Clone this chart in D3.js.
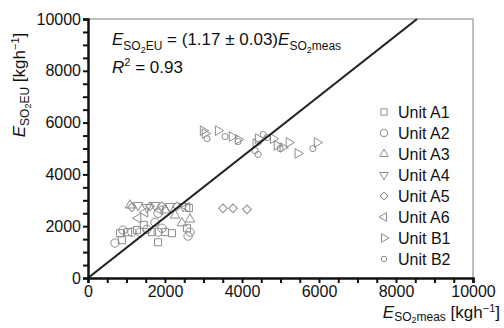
<!DOCTYPE html>
<html>
<head>
<meta charset="utf-8">
<script src="https://cdn.jsdelivr.net/npm/d3@7"></script>
<style>
  body { margin: 0; background: #fff; }
  svg { display: block; font-family: "Liberation Sans", Arial, sans-serif; }
</style>
</head>
<body>
<div id="chart"></div>
<script>
// data (kg/h)
const unitNames = ["Unit A1", "Unit A2", "Unit A3", "Unit A4", "Unit A5", "Unit A6", "Unit B1", "Unit B2"];
const unitA1 = [[880,1460],[830,1730],[1040,1770],[1270,1850],[1660,1770],[1820,1380],[2000,1770],[2180,1730],[2570,1920],[1450,2050],[2620,2700]];
const unitA2 = [[700,1350],[910,1850],[1140,1770],[1350,1770],[1530,1880],[1820,1770],[2650,1770],[1920,1920],[1820,2500],[1740,2150],[2600,1620]];
const unitA3 = [[2440,2120],[2650,2270],[2260,2420],[1090,2810],[2000,2620]];
const unitA4 = [[1300,2810],[1740,2810],[2130,2770],[2470,2770],[1530,2730]];
const unitA5 = [[1140,2730],[1920,2770],[2310,2770],[1610,2770],[3506,2690],[3766,2690],[4130,2650]];
const unitA6 = [[1300,2310],[2570,2730],[1870,2620],[1480,2540]];
const unitB1 = [[2990,5690],[3040,5580],[3380,5690],[3740,5460],[3900,5350],[4360,5190],[4420,5380],[4810,5380],[4910,5120],[5220,5230],[5450,4810],[5950,5230],[5060,5040]];
const unitB2 = [[3090,5380],[3560,5460],[4550,5540],[4650,5420],[4420,4770],[4990,5000],[5840,5000],[3900,5270],[4340,4920]];
const unitData = [unitA1, unitA2, unitA3, unitA4, unitA5, unitA6, unitB1, unitB2];

const slope = 1.17;
const xTicks = d3.range(0, 10001, 500);
const yTicks = d3.range(0, 10001, 500);

const width = 504, height = 328;
const margin = {top: 19, right: 31, bottom: 50, left: 88};

const svg = d3.select('#chart').append('svg')
    .attr('width', width)
    .attr('height', height);

const x = d3.scaleLinear().domain([0, 10000]).range([margin.left, width - margin.right]);
const y = d3.scaleLinear().domain([0, 10000]).range([height - margin.bottom, margin.top]);

// light frame top/right
svg.append('path')
    .attr('d', `M${x(0)},${y(10000)}H${x(10000)}V${y(0)}`)
    .attr('fill', 'none')
    .attr('stroke', '#aaa')
    .attr('stroke-width', 1.5);

// symbols: [type, rotation, size]
const shapes = [
  [d3.symbolSquare, 0, 50],
  [d3.symbolCircle, 0, 55],
  [d3.symbolTriangle, 0, 40],
  [d3.symbolTriangle, 180, 40],
  [d3.symbolSquare, 45, 38],
  [d3.symbolTriangle, -90, 40],
  [d3.symbolTriangle, 90, 40],
  [d3.symbolCircle, 0, 30]
];
const gray = '#8c8c8c';

const pts = svg.append('g');
unitData.forEach((arr, i) => {
  const [type, rot, size] = shapes[i];
  pts.selectAll(null)
      .data(arr)
      .join('path')
      .attr('d', d3.symbol().type(type).size(size))
      .attr('transform', d => `translate(${x(d[0])},${y(d[1])}) rotate(${rot})`)
      .attr('fill', 'none')
      .attr('stroke', gray)
      .attr('stroke-width', 1);
});

// regression line
svg.append('path')
    .datum([[0, 0], [10000 / slope, 10000]])
    .attr('d', d3.line().x(d => x(d[0])).y(d => y(d[1])))
    .attr('stroke', '#222')
    .attr('stroke-width', 2.2)
    .attr('fill', 'none');

// axes
const fmt = d => d % 2000 === 0 ? d : '';
const xAxis = svg.append('g')
    .attr('transform', `translate(0,${y(0)})`)
    .call(d3.axisBottom(x).tickValues(xTicks).tickFormat(fmt).tickSize(5).tickPadding(3));
const yAxis = svg.append('g')
    .attr('transform', `translate(${x(0)},0)`)
    .call(d3.axisLeft(y).tickValues(yTicks).tickFormat(fmt).tickSize(5).tickPadding(2));

[xAxis, yAxis].forEach(a => {
  a.select('.domain').attr('stroke', '#111').attr('stroke-width', 2.5);
  a.selectAll('.tick line').attr('stroke', '#111').attr('stroke-width', 2);
  a.selectAll('.tick text').attr('fill', '#111').style('font-size', '16px').style('font-family', '"Liberation Sans", Arial, sans-serif');
});

// equation text
const eq = svg.append('text')
    .attr('x', 112).attr('y', 45)
    .attr('fill', '#111')
    .style('font-size', '17px');
eq.append('tspan').attr('font-style', 'italic').text('E');
eq.append('tspan').attr('dy', 5).style('font-size', '12px').text('SO');
eq.append('tspan').attr('dy', 3).style('font-size', '9px').text('2');
eq.append('tspan').attr('dy', -3).style('font-size', '12px').text('EU');
eq.append('tspan').attr('dy', -5).text(' = (1.17 ± 0.03)');
eq.append('tspan').attr('font-style', 'italic').text('E');
eq.append('tspan').attr('dy', 5).style('font-size', '12px').text('SO');
eq.append('tspan').attr('dy', 3).style('font-size', '9px').text('2');
eq.append('tspan').attr('dy', -3).style('font-size', '12px').text('meas');

const r2 = svg.append('text')
    .attr('x', 112).attr('y', 73)
    .attr('fill', '#111')
    .style('font-size', '17px');
r2.append('tspan').attr('font-style', 'italic').text('R');
r2.append('tspan').attr('dy', -7).style('font-size', '11px').text('2');
r2.append('tspan').attr('dy', 7).text(' = 0.93');

// legend
const legend = svg.append('g');
unitNames.forEach((name, i) => {
  const ly = 112 + i * 21;
  const [type, rot, size] = shapes[i];
  legend.append('path')
      .attr('d', d3.symbol().type(type).size(size * 0.8))
      .attr('transform', `translate(384,${ly}) rotate(${rot})`)
      .attr('fill', 'none')
      .attr('stroke', gray);
  legend.append('text')
      .attr('x', 398).attr('y', ly + 6)
      .attr('fill', '#111')
      .style('font-size', '16px')
      .text(name);
});

// x axis title
const xt = svg.append('text')
    .attr('x', 500).attr('y', 318)
    .attr('text-anchor', 'end')
    .attr('fill', '#111')
    .style('font-size', '17px');
xt.append('tspan').attr('font-style', 'italic').text('E');
xt.append('tspan').attr('dy', 3).style('font-size', '12px').text('SO');
xt.append('tspan').attr('dy', 2).style('font-size', '9px').text('2');
xt.append('tspan').attr('dy', -2).style('font-size', '12px').text('meas');
xt.append('tspan').attr('dy', -3).text(' [kgh');
xt.append('tspan').attr('dy', -6).style('font-size', '11px').text('−1');
xt.append('tspan').attr('dy', 6).text(']');

// y axis title
const yt = svg.append('text')
    .attr('transform', 'translate(25,85) rotate(-90)')
    .attr('text-anchor', 'middle')
    .attr('fill', '#111')
    .style('font-size', '17px');
yt.append('tspan').attr('font-style', 'italic').text('E');
yt.append('tspan').attr('dy', 4).style('font-size', '12px').text('SO');
yt.append('tspan').attr('dy', 2).style('font-size', '9px').text('2');
yt.append('tspan').attr('dy', -2).style('font-size', '12px').text('EU');
yt.append('tspan').attr('dy', -4).text(' [kgh');
yt.append('tspan').attr('dy', -6).style('font-size', '11px').text('−1');
yt.append('tspan').attr('dy', 6).text(']');
</script>
</body>
</html>
